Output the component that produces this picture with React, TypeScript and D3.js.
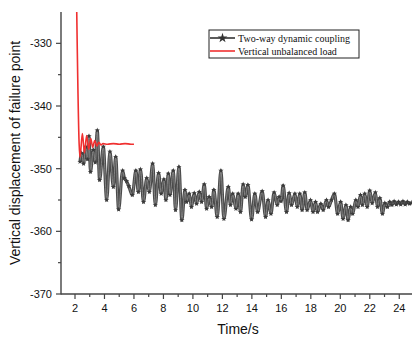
import React from "react";
import * as d3 from "d3";

const coupledTime = [2.34,2.45,2.58,2.72,2.85,2.95,3.05,3.24,3.38,3.51,3.67,3.92,4.15,4.37,4.6,4.76,4.96,5.23,5.35,5.5,5.65,5.89,6.13,6.3,6.44,6.65,6.87,7.04,7.27,7.45,7.67,7.85,8.03,8.17,8.33,8.44,8.67,8.82,9.05,9.25,9.46,9.57,9.75,9.9,10.09,10.25,10.43,10.59,10.77,10.93,11.1,11.27,11.42,11.65,11.9,12.1,12.4,12.55,12.7,12.92,13.07,13.23,13.41,13.55,13.73,13.98,14.2,14.39,14.7,14.93,15.1,15.29,15.51,15.72,15.85,15.98,16.12,16.35,16.53,16.69,16.92,17.08,17.25,17.41,17.59,17.75,17.98,18.15,18.32,18.45,18.68,18.84,19.06,19.2,19.4,19.6,19.82,20.02,20.19,20.38,20.53,20.7,20.84,21.05,21.2,21.37,21.5,21.66,21.82,22.0,22.16,22.38,22.52,22.68,22.86,23.02,23.2,23.35,23.5,23.65,23.8,23.95,24.1,24.25,24.4,24.55,24.7,24.85];
const coupledValue = [-348.9,-347.5,-349.2,-346.5,-348.5,-344.8,-350.5,-347,-349,-343.9,-351.8,-346.5,-355,-347.3,-352.9,-348.1,-356.5,-350.3,-351.5,-352,-352.8,-354.2,-350.3,-353.7,-350.1,-355.3,-351.5,-353.7,-349.2,-355.8,-350.7,-354,-351.7,-355,-350.8,-354.2,-350.3,-356.6,-349.7,-358.2,-353.4,-355.3,-354,-356.1,-353.9,-355.6,-353.7,-355.3,-352.5,-356.4,-354.5,-356.1,-353.4,-357.7,-350.3,-358,-352.9,-355.8,-354,-356.4,-354,-356.9,-352.5,-354.5,-352.6,-358.1,-354,-356.9,-353.6,-357.7,-355,-357.2,-353.8,-355.8,-354.5,-355.2,-352.7,-356.9,-353.9,-355.8,-354,-356.1,-354,-356.6,-353.8,-356.6,-355,-356.9,-355.3,-356.9,-355.6,-356.6,-355,-356.1,-355,-354,-357.2,-355.3,-358,-355.8,-358.2,-356.1,-357.2,-355,-356.1,-354.2,-355.8,-354,-356.1,-353.5,-355.5,-353.8,-356.1,-354.7,-357.2,-355.5,-356.1,-355.3,-355.8,-355.2,-355.7,-355.3,-355.7,-355.2,-355.7,-355.3,-355.6,-355.4];

const unbalancedTime = [2.1,2.28,2.34,2.5,2.64,2.79,2.93,3.07,3.2,3.34,3.48,3.62,3.76,3.9,4.2,4.6,5.0,5.4,5.8,6.0];
const unbalancedValue = [-322,-346,-348.2,-344.4,-347.5,-344.7,-346.9,-345.2,-346.6,-345.5,-346.4,-345.8,-346.2,-346.0,-346.1,-346.0,-346.1,-346.0,-346.1,-346.1];

const xTicks = [2,4,6,8,10,12,14,16,18,20,22,24];
const xMinor = [3,5,7,9,11,13,15,17,19,21,23,25];
const yTicks = [-330,-340,-350,-360,-370];
const yMinor = [-335,-345,-355,-365];

const seriesNames = ["Two-way dynamic coupling", "Vertical unbalanced load"];

const W = 412, H = 341;
const left = 61, right = 414, top = 12, bottom = 294;

export default function App() {
  const x = d3.scaleLinear().domain([1.05, 25]).range([left, right]);
  const y = d3.scaleLinear().domain([-370, -325]).range([bottom, top]);

  const coupled = coupledTime.map((t, i) => [t, coupledValue[i]] as [number, number]);
  const unbalanced = unbalancedTime.map((t, i) => [t, unbalancedValue[i]] as [number, number]);

  const line = d3.line<[number, number]>().x(d => x(d[0])).y(d => y(d[1])).curve(d3.curveMonotoneX);
  const star = d3.symbol().type(d3.symbolStar).size(9)()!;
  const starLeg = d3.symbol().type(d3.symbolStar).size(30)()!;

  const sans = "'Liberation Sans', Arial, sans-serif";
  const serif = "'Liberation Serif', 'Times New Roman', serif";
  const axisColor = "#444";

  return (
    <svg width={W} height={H} style={{ position: "absolute", left: 0, top: 0 }}>
      <defs>
        <clipPath id="plot">
          <rect x={left} y={top} width={W - left} height={bottom - top} />
        </clipPath>
      </defs>
      <rect width={W} height={H} fill="#fff" />
      <g clipPath="url(#plot)">
        <path d={line(coupled)!} fill="none" stroke="#4a4a4a" strokeWidth={3.2} strokeLinejoin="round" />
        <path d={line(coupled)!} fill="none" stroke="#8c8c8c" strokeWidth={0.9} strokeLinejoin="round" />
        {coupled.map((d, i) => (
          <path key={i} d={star} transform={`translate(${x(d[0])},${y(d[1])})`} fill="#3a3a3a" />
        ))}
        <path d={line(unbalanced)!} fill="none" stroke="#f03030" strokeWidth={1.6} />
      </g>
      <line x1={left} x2={left} y1={top} y2={bottom + 0.5} stroke={axisColor} strokeWidth={1.4} />
      <line x1={left} x2={W} y1={bottom} y2={bottom} stroke={axisColor} strokeWidth={1.4} />
      {xTicks.map(t => (
        <g key={t}>
          <line x1={x(t)} x2={x(t)} y1={bottom} y2={bottom + 5} stroke={axisColor} strokeWidth={1.2} />
          <text x={x(t)} y={bottom + 18} textAnchor="middle" fontFamily={sans} fontSize={11} fill="#111">{t}</text>
        </g>
      ))}
      {xMinor.map(t => (
        <line key={t} x1={x(t)} x2={x(t)} y1={bottom} y2={bottom + 3} stroke={axisColor} strokeWidth={1.2} />
      ))}
      {yTicks.map(v => (
        <g key={v}>
          <line x1={left - 5} x2={left} y1={y(v)} y2={y(v)} stroke={axisColor} strokeWidth={1.2} />
          <text x={left - 9} y={y(v) + 4} textAnchor="end" fontFamily={sans} fontSize={11} fill="#111">{v}</text>
        </g>
      ))}
      {yMinor.map(v => (
        <line key={v} x1={left - 3} x2={left} y1={y(v)} y2={y(v)} stroke={axisColor} strokeWidth={1.2} />
      ))}
      <text x={238} y={334} textAnchor="middle" fontFamily={sans} fontSize={14} fill="#111">Time/s</text>
      <text transform={`translate(20,${(top + bottom) / 2}) rotate(-90)`} textAnchor="middle" fontFamily={sans} fontSize={14} fill="#111">
        Vertical displacement of failure point
      </text>
      <rect x={209} y={30} width={150} height={28} fill="#fff" stroke="#222" strokeWidth={1} />
      <line x1={210} x2={235} y1={38} y2={38} stroke="#333" strokeWidth={1.6} />
      <path d={starLeg} transform="translate(222.5,38)" fill="#333" />
      <text x={238} y={41.5} fontFamily={serif} fontSize={10} fill="#111">{seriesNames[0]}</text>
      <line x1={210} x2={235} y1={51} y2={51} stroke="#f03030" strokeWidth={1.6} />
      <text x={238} y={54.5} fontFamily={serif} fontSize={10} fill="#111">{seriesNames[1]}</text>
    </svg>
  );
}
